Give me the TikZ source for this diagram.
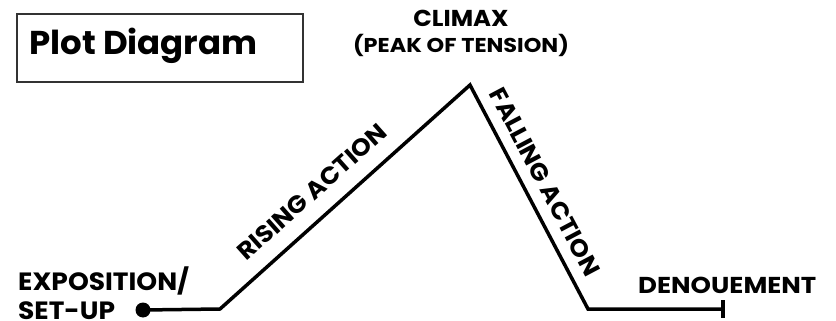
\documentclass[tikz,border=0pt]{standalone}
\usepackage{fontspec}
\setmainfont{Poppins}[BoldFont={Poppins Bold}]
\newcommand{\hs}[2]{\scalebox{#1}[1]{#2}}
\begin{document}
\begin{tikzpicture}[x=1pt,y=-1pt,
  lbl/.style={inner sep=0pt, font=\bfseries},
  plotline/.style={line width=3.5pt, line join=miter, black}]
\useasboundingbox (0,0) rectangle (836,321);
% title box
\node[draw=black!80, line width=2pt, minimum width=286pt, minimum height=68pt, inner sep=0pt, anchor=north west] (box) at (16,13) {};
\node[lbl, anchor=base west, font=\bfseries\fontsize{33}{33}\selectfont] (title) at (29,55) {\hs{1.03}{Plot Diagram}};
% climax labels
\node[lbl, anchor=base, font=\bfseries\fontsize{23}{23}\selectfont] (climax) at (461,27) {\hs{1.06}{CLIMAX}};
\node[lbl, anchor=base, font=\bfseries\fontsize{20}{20}\selectfont] (peak) at (461,53) {\hs{1.12}{(PEAK OF TENSION)}};
% plot line points
\coordinate (start) at (143,310);
\coordinate (b1) at (220,309);
\coordinate (top) at (470,85);
\coordinate (b2) at (588,309);
\coordinate (end) at (723,309);
\draw[plotline] (start) -- (b1) -- (top) -- (b2) -- (end);
\draw[plotline] (723,300) coordinate (t1) -- (723,318) coordinate (t2);
\fill (start) circle (7.5pt);
% side labels
\node[lbl, anchor=base west, font=\bfseries\fontsize{25}{25}\selectfont] (expo) at (18,290) {\hs{1.06}{EXPOSITION/}};
\node[lbl, anchor=base west, font=\bfseries\fontsize{25}{25}\selectfont] (setup) at (18,319) {\hs{1.06}{SET-UP}};
\node[lbl, anchor=base west, font=\bfseries\fontsize{23}{23}\selectfont] (den) at (638,293) {\hs{1.13}{DENOUEMENT}};
\node[lbl, rotate=41.7, font=\bfseries\fontsize{24}{24}\selectfont] (rise) at (312,192) {\hs{1.06}{RISING ACTION}};
\node[lbl, rotate=-62.1, font=\bfseries\fontsize{24}{24}\selectfont] (fall) at (545,182) {\hs{1.06}{FALLING ACTION}};
\end{tikzpicture}
\end{document}
